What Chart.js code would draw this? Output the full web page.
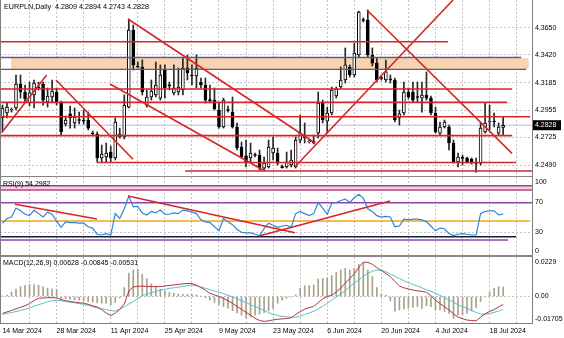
<!DOCTYPE html>
<html>
<head>
<meta charset="utf-8">
<title>EURPLN Daily</title>
<script src="https://cdn.jsdelivr.net/npm/chart.js@4.4.1/dist/chart.umd.min.js"></script>
<style>
  html, body { margin: 0; padding: 0; background: #fff; }
  #terminal { position: relative; width: 564px; height: 338px; overflow: hidden; background: #fff; }
  #terminal canvas { position: absolute; left: 0; }
  .sep { position: absolute; left: 0; width: 533px; background: #858585; }
</style>
</head>
<body>
<div id="terminal">
  <canvas id="priceChart" width="564" height="176" style="top:0"></canvas>
  <div class="sep" style="top:176px;height:1px"></div>
  <canvas id="rsiChart" width="564" height="78" style="top:177px"></canvas>
  <div class="sep" style="top:255px;height:2px"></div>
  <canvas id="macdChart" width="564" height="81" style="top:257px"></canvas>
</div>
<script>
// ---- captions ----
const symbolTitle = 'EURPLN,Daily  4.2809 4.2894 4.2743 4.2828';
const rsiTitle = 'RSI(9) 54.2982';
const macdTitle = 'MACD(12,26,9) 0.00628 -0.00845 -0.00531';

// one date label every 12 bars (bar 0 = 14 Mar 2024, Sunday bars included)
const dateLabels = ['14 Mar 2024', '28 Mar 2024', '11 Apr 2024', '25 Apr 2024', '9 May 2024',
  '23 May 2024', '6 Jun 2024', '20 Jun 2024', '4 Jul 2024', '18 Jul 2024'];
const priceTicks = [4.2490, 4.2725, 4.2955, 4.3185, 4.3420, 4.3650];
const rsiScaleLabels = [100, 70, 30, 0];
const macdScaleValues = [0.0229, 0, -0.01705];
const macdScaleText = ['0.0229', '0.00', '-0.01705'];

// ---- daily bars ----
const barOpen = [
  4.2889, 4.2931, 4.2956, 4.2973, 4.3175, 4.3108, 4.3015, 4.3083, 4.3150, 4.3175, 4.3024, 4.3066,
  4.3108, 4.3015, 4.2838, 4.2923, 4.2847, 4.2872, 4.2872, 4.2872, 4.2762, 4.2754, 4.2552, 4.2560,
  4.2602, 4.2552, 4.2729, 4.2729, 4.2981, 4.3631, 4.3327, 4.3319, 4.2998, 4.3066, 4.3083, 4.3057,
  4.3293, 4.3167, 4.3100, 4.3108, 4.3125, 4.3310, 4.3251, 4.3243, 4.3192, 4.3167, 4.3040, 4.3040,
  4.2956, 4.2813, 4.2956, 4.2939, 4.2813, 4.2644, 4.2569, 4.2552, 4.2577, 4.2577, 4.2467, 4.2476,
  4.2594, 4.2594, 4.2476, 4.2476, 4.2493, 4.2476, 4.2703, 4.2729, 4.2687, 4.2678, 4.2762, 4.3015,
  4.2863, 4.2931, 4.3074, 4.3150, 4.3209, 4.3319, 4.3251, 4.3420, 4.3715, 4.3715, 4.3420, 4.3352,
  4.3226, 4.3209, 4.3218, 4.3209, 4.2889, 4.2931, 4.3108, 4.3108, 4.3066, 4.3057, 4.3083, 4.3057,
  4.2931, 4.2762, 4.2813, 4.2813, 4.2678, 4.2518, 4.2552, 4.2552, 4.2543, 4.2518, 4.2509, 4.2771,
  4.2855, 4.2863, 4.2762, 4.2809
];
const barHigh = [
  4.2998, 4.3015, 4.2973, 4.3251, 4.3251, 4.3167, 4.3192, 4.3209, 4.3192, 4.3192, 4.3142, 4.3209,
  4.3142, 4.3032, 4.2906, 4.2990, 4.2973, 4.2939, 4.2956, 4.2939, 4.2779, 4.2771, 4.2661, 4.2678,
  4.2653, 4.2889, 4.2804, 4.3083, 4.3723, 4.3673, 4.3361, 4.3378, 4.3125, 4.3209, 4.3361, 4.3336,
  4.3336, 4.3192, 4.3336, 4.3310, 4.3395, 4.3420, 4.3336, 4.3420, 4.3226, 4.3226, 4.3167, 4.3142,
  4.3015, 4.3057, 4.2990, 4.3066, 4.2847, 4.2687, 4.2703, 4.2678, 4.2594, 4.2619, 4.2560, 4.2703,
  4.2729, 4.2636, 4.2493, 4.2602, 4.2619, 4.2729, 4.2914, 4.2847, 4.2703, 4.2745, 4.3108, 4.3040,
  4.2981, 4.3150, 4.3150, 4.3319, 4.3479, 4.3336, 4.3521, 4.3790, 4.3732, 4.3799, 4.3479, 4.3395,
  4.3243, 4.3378, 4.3251, 4.3226, 4.2956, 4.3192, 4.3142, 4.3192, 4.3192, 4.3192, 4.3277, 4.3074,
  4.2981, 4.2855, 4.2872, 4.2830, 4.2703, 4.2594, 4.2577, 4.2560, 4.2552, 4.2552, 4.2847, 4.3015,
  4.2998, 4.2931, 4.2847, 4.2894
];
const barLow = [
  4.2779, 4.2889, 4.2939, 4.2956, 4.3057, 4.3024, 4.2990, 4.2973, 4.3125, 4.2998, 4.2981, 4.3024,
  4.2998, 4.2745, 4.2821, 4.2804, 4.2804, 4.2838, 4.2838, 4.2788, 4.2745, 4.2518, 4.2518, 4.2518,
  4.2518, 4.2535, 4.2720, 4.2712, 4.2973, 4.3293, 4.3310, 4.3083, 4.2981, 4.3040, 4.3066, 4.3040,
  4.3057, 4.3125, 4.3083, 4.3083, 4.3083, 4.3209, 4.3167, 4.3142, 4.3142, 4.3015, 4.3015, 4.2956,
  4.2804, 4.2804, 4.2939, 4.2804, 4.2619, 4.2552, 4.2476, 4.2509, 4.2560, 4.2450, 4.2450, 4.2467,
  4.2535, 4.2493, 4.2467, 4.2467, 4.2476, 4.2467, 4.2678, 4.2678, 4.2678, 4.2670, 4.2720, 4.2847,
  4.2762, 4.2914, 4.3057, 4.3142, 4.3184, 4.3234, 4.3234, 4.3403, 4.3698, 4.3403, 4.3327, 4.3192,
  4.3209, 4.3192, 4.3184, 4.2855, 4.2830, 4.2914, 4.3049, 4.3024, 4.3024, 4.2939, 4.3040, 4.2914,
  4.2762, 4.2745, 4.2804, 4.2619, 4.2509, 4.2476, 4.2493, 4.2509, 4.2501, 4.2433, 4.2493, 4.2762,
  4.2788, 4.2813, 4.2745, 4.2743
];
const barClose = [
  4.2973, 4.2981, 4.2965, 4.3175, 4.3108, 4.3049, 4.3100, 4.3184, 4.3142, 4.3040, 4.3074, 4.3116,
  4.3024, 4.2771, 4.2872, 4.2889, 4.2897, 4.2868, 4.2863, 4.2804, 4.2754, 4.2552, 4.2585, 4.2594,
  4.2552, 4.2855, 4.2754, 4.2998, 4.3631, 4.3336, 4.3319, 4.3108, 4.3066, 4.3116, 4.3167, 4.3251,
  4.3142, 4.3159, 4.3142, 4.3150, 4.3310, 4.3268, 4.3243, 4.3310, 4.3167, 4.3040, 4.3036, 4.2965,
  4.2813, 4.3040, 4.2952, 4.2813, 4.2636, 4.2560, 4.2518, 4.2594, 4.2573, 4.2467, 4.2509, 4.2644,
  4.2636, 4.2509, 4.2471, 4.2518, 4.2535, 4.2703, 4.2762, 4.2724, 4.2691, 4.2695, 4.3015, 4.2872,
  4.2931, 4.3125, 4.3133, 4.3209, 4.3336, 4.3251, 4.3437, 4.3782, 4.3711, 4.3420, 4.3352, 4.3209,
  4.3222, 4.3277, 4.3209, 4.2872, 4.2923, 4.3108, 4.3066, 4.3040, 4.3062, 4.3083, 4.3057, 4.2931,
  4.2771, 4.2813, 4.2855, 4.2678, 4.2518, 4.2560, 4.2548, 4.2518, 4.2509, 4.2507, 4.2804, 4.2847,
  4.2859, 4.2855, 4.2813, 4.2828
];

// ---- indicators ----
const rsiValues = [
  42, 48.6, 50.5, 62.5, 58.8, 54.2, 52.4, 59.8, 55.1, 50.5, 57, 54.2,
  45, 36.6, 44, 43.1, 43.1, 42.2, 42.2, 37.5, 35.7, 27.4, 26.4, 28.3,
  26, 55.1, 48.6, 61.6, 78.3, 64.4, 64.4, 56, 53.3, 57.9, 56, 59.8,
  54.2, 54.2, 56, 55.1, 59.8, 58.8, 57, 55.1, 46.8, 44, 43.1, 37.5,
  32, 48.6, 44, 40.3, 33.8, 30.1, 29.2, 29.2, 27.4, 25.5, 34.8, 42.2,
  39.4, 36.6, 38.5, 39.4, 36.6, 55.1, 57.9, 55.1, 52.4, 55.1, 70, 62.5,
  54.2, 69, 70, 72.7, 74.6, 70, 76.4, 81.1, 75.5, 61.6, 57.9, 52.4,
  50.5, 51.4, 50.5, 37.5, 38.5, 47.7, 46.8, 47.7, 47.7, 46.8, 44, 38.5,
  32, 35.7, 34.8, 28.3, 25.5, 27.4, 28.3, 27.4, 26.4, 26.4, 55.1, 57.9,
  58.8, 58.8, 53.3, 54.2982
];
const macdMain = [
  -0.0113, -0.0103, -0.0093, -0.0082, -0.0072, -0.0061, -0.0048, -0.0027, -0.0012, -0.0010, -0.0008, -0.0008,
  -0.0009, -0.0020, -0.0028, -0.0033, -0.0038, -0.0042, -0.0045, -0.0052, -0.0062, -0.0070, -0.0088, -0.0110,
  -0.0127, -0.0112, -0.0085, -0.0050, 0.0035, 0.0064, 0.0068, 0.0069, 0.0067, 0.0066, 0.0066, 0.0066,
  0.0070, 0.0074, 0.0077, 0.0080, 0.0084, 0.0087, 0.0086, 0.0075, 0.0060, 0.0042, 0.0021, 0.0010,
  0.0001, -0.0013, -0.0028, -0.0046, -0.0066, -0.0086, -0.0106, -0.0125, -0.0145, -0.0160, -0.0166, -0.0162,
  -0.0156, -0.0152, -0.0149, -0.0147, -0.0142, -0.0120, -0.0101, -0.0085, -0.0074, -0.0066, -0.0040, -0.0015,
  0.0000, 0.0008, 0.0030, 0.0058, 0.0088, 0.0120, 0.0150, 0.0195, 0.0229, 0.0228, 0.0214, 0.0193,
  0.0172, 0.0153, 0.0132, 0.0100, 0.0070, 0.0058, 0.0050, 0.0043, 0.0038, 0.0034, 0.0028, 0.0005,
  -0.0025, -0.0048, -0.0068, -0.0090, -0.0115, -0.0138, -0.0148, -0.0157, -0.0160, -0.0163, -0.0138, -0.0115,
  -0.0100, -0.0087, -0.0070, -0.00531
];
const macdSignal = [
  -0.0119, -0.0113, -0.0107, -0.0100, -0.0093, -0.0085, -0.0077, -0.0065, -0.0055, -0.0045, -0.0035, -0.0028,
  -0.0024, -0.0028, -0.0034, -0.0038, -0.0042, -0.0047, -0.0052, -0.0060, -0.0068, -0.0075, -0.0081, -0.0088,
  -0.0094, -0.0097, -0.0085, -0.0068, -0.0050, -0.0033, -0.0015, 0.0005, 0.0015, 0.0025, 0.0034, 0.0042,
  0.0048, 0.0054, 0.0058, 0.0062, 0.0067, 0.0072, 0.0077, 0.0072, 0.0063, 0.0055, 0.0045, 0.0036,
  0.0028, 0.0018, 0.0008, -0.0002, -0.0015, -0.0028, -0.0040, -0.0055, -0.0068, -0.0080, -0.0093, -0.0108,
  -0.0119, -0.0126, -0.0132, -0.0135, -0.0139, -0.0138, -0.0130, -0.0120, -0.0110, -0.0098, -0.0082, -0.0065,
  -0.0045, -0.0025, -0.0003, 0.0015, 0.0040, 0.0065, 0.0090, 0.0110, 0.0135, 0.0155, 0.0168, 0.0175,
  0.0177, 0.0165, 0.0150, 0.0135, 0.0120, 0.0105, 0.0092, 0.0080, 0.0070, 0.0058, 0.0045, 0.0035,
  0.0022, 0.0008, -0.0008, -0.0022, -0.0038, -0.0055, -0.0068, -0.0080, -0.0093, -0.0106, -0.0117, -0.0119,
  -0.0113, -0.0106, -0.0098, -0.00845
];
const macdHist = [
  0.0003, 0.0010, 0.0030, 0.0050, 0.0065, 0.0075, 0.0080, 0.0080, 0.0075, 0.0065, 0.0055, 0.0050,
  0.0048, -0.0012, -0.0016, -0.0020, -0.0023, -0.0023, -0.0030, -0.0034, -0.0038, -0.0042, -0.0045, -0.0045,
  -0.0055, -0.0040, -0.0010, 0.0060, 0.0155, 0.0177, 0.0183, 0.0148, 0.0120, 0.0085, 0.0065, 0.0050,
  0.0035, 0.0028, 0.0021, 0.0017, 0.0015, 0.0015, 0.0015, 0.0010, 0.0003, -0.0010, -0.0025, -0.0040,
  -0.0055, -0.0068, -0.0077, -0.0095, -0.0110, -0.0125, -0.0145, -0.0135, -0.0125, -0.0117, -0.0108, -0.0095,
  -0.0079, -0.0045, -0.0025, -0.0012, -0.0005, 0.0010, 0.0055, 0.0072, 0.0072, 0.0077, 0.0117, 0.0121,
  0.0125, 0.0140, 0.0160, 0.0177, 0.0188, 0.0177, 0.0188, 0.0215, 0.0225, 0.0177, 0.0132, 0.0059,
  0.0015, 0.0008, -0.0030, -0.0097, -0.0090, -0.0082, -0.0077, -0.0072, -0.0068, -0.0079, -0.0061, -0.0068,
  -0.0090, -0.0090, -0.0100, -0.0112, -0.0145, -0.0123, -0.0123, -0.0112, -0.0097, -0.0075, -0.0035, 0.0000,
  0.0030, 0.0055, 0.0065, 0.00628
];

// ---- drawn objects (bar index, value) ----
const X_MIN = -0.55, X_MAX = 117.4;
const supportLevels = [4.3532, 4.3133, 4.3021, 4.2900, 4.2740, 4.2514, 4.2442];
const supportSpans = [[X_MIN, 98.8], [X_MIN, 113], [X_MIN, 111.9], [X_MIN, 117], [X_MIN, 113], [20.95, 113.9], [40.5, X_MAX]];
const zoneEdges = [4.3399, 4.3298];
const zoneEdgeSpans = [[X_MIN, 115], [X_MIN, 116.1]];
const zoneFill = [4.3302, 4.3392];
const zoneSpan = [1.9, 116.7];
const priceTrends = [
  [-0.2, 4.2765, 9.8, 4.3251],
  [11.86, 4.3209, 28.94, 4.2541],
  [27.83, 4.3723, 69.3, 4.2678],
  [23.84, 4.3175, 57.76, 4.2450],
  [64.86, 4.2478, 99.9, 4.38835],
  [80.8, 4.3799, 112.97, 4.2591]
];
const rsiTrends = [
  [2.77, 67.6, 20.95, 47.9],
  [27.83, 78.7, 64.86, 29.5],
  [57.1, 25.4, 85.9, 72.0]
];
const rsiBand = [86.8, 92.6];
const rsiLevels = [69.7, 45.2, 24.1, 19.7];
const rsiLevelSpans = [[X_MIN, X_MAX], [X_MIN, 117], [X_MIN, 113.9], [X_MIN, 112.1]];
const rsiLevelColors = ['#8f44a8', '#f2a51c', '#1b1b3d', '#8f44a8'];

// ---- look ----
const FONT_FAMILY = '"Liberation Sans", Arial, sans-serif';
const FONT = { family: FONT_FAMILY, size: 7 };
const GRID = '#c2c2c2';
const FRAME = '#7d7d7d';
const RED = '#d52626';
const weekTicks = [];
for (let v = 0; v <= 114; v += 6) weekTicks.push(v);
const bars = barClose.map((_, i) => i);
const lastClose = barClose[barClose.length - 1];

function segment(x1, y1, x2, y2, color, width, order) {
  return {
    type: 'line', order, data: [{ x: x1, y: y1 }, { x: x2, y: y2 }],
    borderColor: color, borderWidth: width, pointRadius: 0, fill: false, tension: 0
  };
}

function timeAxis(withDates) {
  return {
    type: 'linear', min: X_MIN, max: X_MAX, offset: false,
    afterBuildTicks: axis => { axis.ticks = weekTicks.map(value => ({ value })); },
    afterFit: axis => {
      axis.height = withDates ? 15 : 0;
      axis.paddingLeft = 0; axis.paddingRight = 0;
    },
    grid: {
      offset: false, drawTicks: false, lineWidth: 1,
      color: ctx => (ctx.tick && ctx.tick.value === 0 ? 'rgba(0,0,0,0)' : GRID)
    },
    border: { display: false, dash: [2, 2] },
    ticks: withDates ? {
      autoSkip: false, maxRotation: 0, minRotation: 0, align: 'start', padding: 4,
      color: '#000', font: FONT,
      callback: v => (v % 12 === 0 ? (dateLabels[v / 12] || '') : '')
    } : { display: false }
  };
}

function valueAxis(min, max, tickValues, labelFn) {
  return {
    position: 'right', min, max,
    afterBuildTicks: axis => { axis.ticks = tickValues.map(value => ({ value })); },
    afterFit: axis => { axis.width = 32; axis.paddingTop = 0; axis.paddingBottom = 0; },
    grid: { drawTicks: false, color: GRID, lineWidth: 1 },
    border: { display: false, dash: [2, 2] },
    ticks: labelFn ? { padding: 3, color: '#000', font: FONT, callback: labelFn } : { display: false }
  };
}

function baseOptions(scales) {
  return {
    responsive: false, animation: false, events: [],
    layout: { padding: 0, autoPadding: false },
    plugins: { legend: { display: false }, tooltip: { enabled: false } },
    scales
  };
}

// frame lines + captions drawn over each pane
function paneDecor(title, extra) {
  return {
    id: 'paneDecor',
    afterDraw(chart) {
      const { ctx, chartArea: a } = chart;
      ctx.save();
      ctx.fillStyle = FRAME;
      ctx.fillRect(0, a.top, 1, a.bottom - a.top);
      ctx.fillRect(a.right, a.top, 1, a.bottom - a.top);
      ctx.font = title.size + 'px ' + FONT_FAMILY;
      ctx.textBaseline = 'middle';
      ctx.fillStyle = '#000';
      ctx.fillText(title.text, title.x, title.y);
      ctx.font = '7px ' + FONT_FAMILY;
      if (extra) extra(chart, ctx, a);
      ctx.restore();
    }
  };
}

function sideLabels(values, texts) {
  return (chart, ctx, a) => {
    const y = chart.scales.y;
    ctx.fillStyle = '#000';
    values.forEach((v, i) => {
      const py = Math.min(Math.max(y.getPixelForValue(v), a.top + 5), a.bottom - 4);
      ctx.fillText(texts[i], a.right + 3, py);
    });
  };
}

// ---- price pane ----
const priceSets = [];
priceTrends.forEach(t => priceSets.push(segment(t[0], t[1], t[2], t[3], RED, 1.6, 1)));
supportLevels.forEach((p, i) => priceSets.push(segment(supportSpans[i][0], p, supportSpans[i][1], p, RED, 1.6, 1)));
zoneEdges.forEach((p, i) => priceSets.push(segment(zoneEdgeSpans[i][0], p, zoneEdgeSpans[i][1], p, '#5a5a86', 1.3, 2)));
priceSets.push({
  type: 'bar', order: 3, grouped: false,
  data: bars.map(i => ({ x: i, y: [barOpen[i], barClose[i]] })),
  backgroundColor: ctx => (barClose[ctx.dataIndex] >= barOpen[ctx.dataIndex] ? '#ffffff' : '#000000'),
  borderColor: '#000', borderWidth: 1, borderSkipped: false,
  barThickness: 3, minBarLength: 1
});
priceSets.push({
  type: 'bar', order: 4, grouped: false,
  data: bars.map(i => ({ x: i, y: [barLow[i], barHigh[i]] })),
  backgroundColor: '#262626', borderWidth: 0, barThickness: 1
});
priceSets.push(segment(X_MIN, lastClose, X_MAX, lastClose, '#b3c3d6', 1, 5));
priceSets.push({
  type: 'line', order: 9,
  data: [{ x: zoneSpan[0], y: zoneFill[0] }, { x: zoneSpan[1], y: zoneFill[0] }],
  borderWidth: 0, pointRadius: 0, backgroundColor: '#f9d2ae', fill: { value: zoneFill[1] }
});

new Chart(document.getElementById('priceChart'), {
  type: 'bar',
  data: { datasets: priceSets },
  options: baseOptions({
    x: timeAxis(false),
    y: valueAxis(4.2400, 4.38835, priceTicks, v => v.toFixed(4))
  }),
  plugins: [paneDecor({ text: symbolTitle, x: 4, y: 7, size: 7.2 }, (chart, ctx, a) => {
    const py = chart.scales.y.getPixelForValue(lastClose);
    ctx.fillStyle = '#000';
    ctx.fillRect(a.right + 1, py - 5, 28, 10);
    ctx.fillStyle = '#fff';
    ctx.fillText(lastClose.toFixed(4), a.right + 3, py);
  })]
});

// ---- RSI pane ----
const rsiSets = [];
rsiTrends.forEach(t => rsiSets.push(segment(t[0], t[1], t[2], t[3], RED, 1.5, 1)));
rsiSets.push({
  type: 'line', order: 2,
  data: bars.map(i => ({ x: i, y: rsiValues[i] })),
  borderColor: '#2f86d4', borderWidth: 1.2, pointRadius: 0, fill: false, tension: 0
});
rsiLevels.forEach((v, i) => rsiSets.push(segment(rsiLevelSpans[i][0], v, rsiLevelSpans[i][1], v, rsiLevelColors[i], 1.6, 3)));
rsiSets.push(segment(X_MIN, rsiBand[1], X_MAX, rsiBand[1], '#8f44a8', 1.5, 3));
rsiSets.push(segment(X_MIN, rsiBand[0], X_MAX, rsiBand[0], '#b8467c', 1.5, 3));
rsiSets.push({
  type: 'line', order: 9,
  data: [{ x: X_MIN, y: rsiBand[0] }, { x: X_MAX, y: rsiBand[0] }],
  borderWidth: 0, pointRadius: 0, backgroundColor: '#f4d4e0', fill: { value: rsiBand[1] }
});

new Chart(document.getElementById('rsiChart'), {
  type: 'line',
  data: { datasets: rsiSets },
  options: baseOptions({
    x: timeAxis(false),
    y: valueAxis(-0.47, 104.23, [30, 70], null)
  }),
  plugins: [paneDecor({ text: rsiTitle, x: 3, y: 7, size: 7 },
    sideLabels(rsiScaleLabels, rsiScaleLabels.map(String)))]
});

// ---- MACD pane ----
new Chart(document.getElementById('macdChart'), {
  type: 'bar',
  data: {
    datasets: [
      {
        type: 'line', order: 1, data: bars.map(i => ({ x: i, y: macdMain[i] })),
        borderColor: '#b0343e', borderWidth: 1, pointRadius: 0, fill: false, tension: 0
      },
      {
        type: 'line', order: 2, data: bars.map(i => ({ x: i, y: macdSignal[i] })),
        borderColor: '#52c2d0', borderWidth: 1, pointRadius: 0, fill: false, tension: 0
      },
      {
        type: 'bar', order: 3, grouped: false,
        data: bars.map(i => ({ x: i, y: macdHist[i] })),
        backgroundColor: '#a8a18c', borderWidth: 0, barThickness: 1
      }
    ]
  },
  options: baseOptions({
    x: timeAxis(true),
    y: valueAxis(-0.017667, 0.026333, [0], null)
  }),
  plugins: [paneDecor({ text: macdTitle, x: 3, y: 6, size: 7 }, (chart, ctx, a) => {
    ctx.fillStyle = FRAME;
    ctx.fillRect(0, a.bottom, a.right + 1, 1);
    sideLabels(macdScaleValues, macdScaleText)(chart, ctx, a);
  })]
});
</script>
</body>
</html>
